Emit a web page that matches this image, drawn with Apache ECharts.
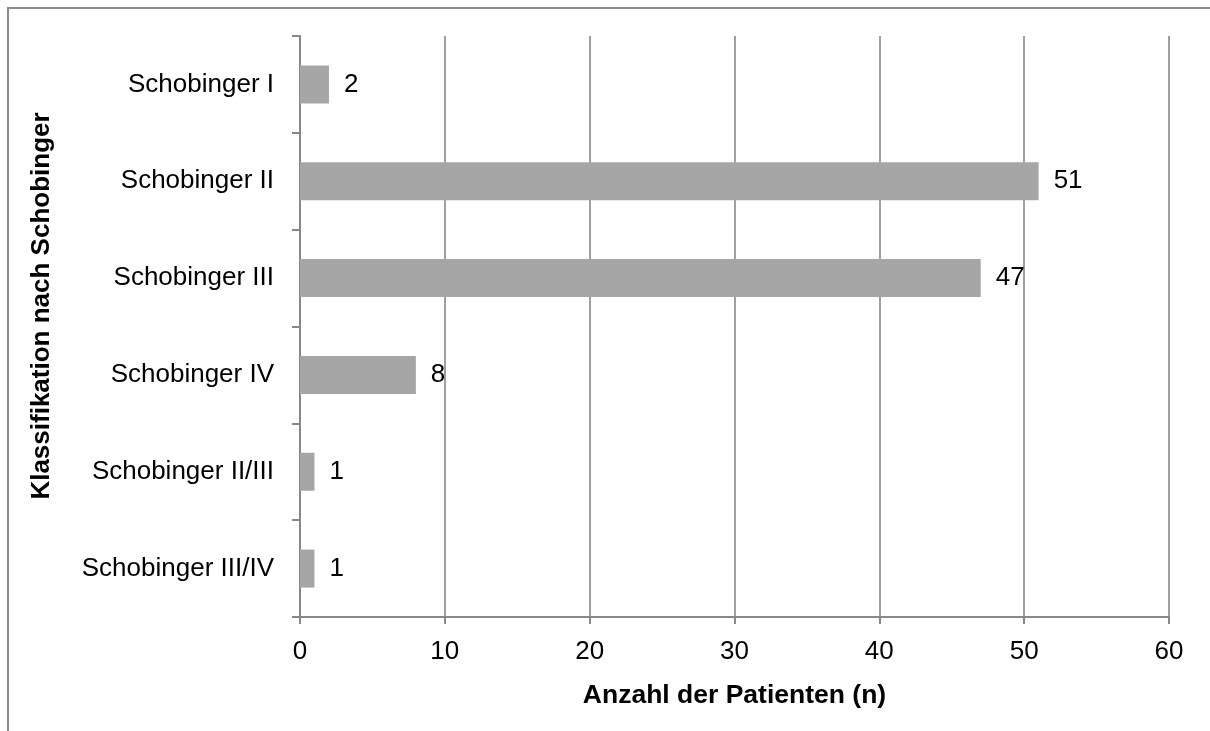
<!DOCTYPE html>
<html>
<head>
<meta charset="utf-8">
<script src="https://cdn.jsdelivr.net/npm/echarts@6/dist/echarts.min.js"></script>
<style>
  html, body { margin: 0; padding: 0; background: #fff; }
  #chart { width: 1210px; height: 731px; }
</style>
</head>
<body>
<div id="chart"></div>
<script>
// Schobinger stages and patient counts
const categories = ['Schobinger I', 'Schobinger II', 'Schobinger III', 'Schobinger IV', 'Schobinger II/III', 'Schobinger III/IV'];
const patients = [2, 51, 47, 8, 1, 1];
const xTicks = [0, 10, 20, 30, 40, 50, 60];
const yTitle = 'Klassifikation nach Schobinger';
const xTitle = 'Anzahl der Patienten (n)';

const FONT = '"Liberation Sans", Arial, sans-serif';
const GRID_COLOR = '#888888';

const chart = echarts.init(document.getElementById('chart'), null, { renderer: 'canvas' });

chart.setOption({
  backgroundColor: '#ffffff',
  animation: false,
  graphic: [{
    // outer frame (top and left edges)
    type: 'polyline',
    shape: { points: [[8, 731], [8, 8], [1210, 8]] },
    style: { stroke: '#8c8c8c', lineWidth: 2, fill: null },
    silent: true
  }, {
    // vertical axis title
    type: 'text',
    x: 42,
    y: 306,
    rotation: Math.PI / 2,
    silent: true,
    style: {
      text: yTitle,
      font: 'bold 26px ' + FONT,
      fill: '#000',
      align: 'center',
      verticalAlign: 'middle'
    }
  }],
  grid: { left: 300, right: 41, top: 36, bottom: 114, containLabel: false },
  xAxis: {
    type: 'value',
    min: xTicks[0],
    max: xTicks[xTicks.length - 1],
    interval: 10,
    name: xTitle,
    nameLocation: 'middle',
    nameGap: 65,
    nameTextStyle: { fontFamily: FONT, fontSize: 26.5, fontWeight: 'bold', color: '#000' },
    axisLine: { show: true, lineStyle: { color: GRID_COLOR, width: 2 } },
    axisTick: { show: true, length: 7, lineStyle: { color: GRID_COLOR, width: 2 } },
    axisLabel: { fontFamily: FONT, fontSize: 26, color: '#000', margin: 22 },
    splitLine: { show: true, lineStyle: { color: GRID_COLOR, width: 1.6 } }
  },
  yAxis: {
    type: 'category',
    data: categories,
    inverse: true,
    axisLine: { show: true, lineStyle: { color: GRID_COLOR, width: 2 } },
    axisTick: { show: true, length: 8, alignWithLabel: false, lineStyle: { color: GRID_COLOR, width: 2 } },
    axisLabel: { fontFamily: FONT, fontSize: 26, color: '#000', margin: 26 },
    splitLine: { show: false }
  },
  series: [{
    type: 'bar',
    data: patients,
    barWidth: 38,
    itemStyle: { color: '#a6a6a6' },
    label: {
      show: true,
      position: 'right',
      distance: 15,
      fontFamily: FONT,
      fontSize: 26,
      color: '#000'
    }
  }]
});
</script>
</body>
</html>
